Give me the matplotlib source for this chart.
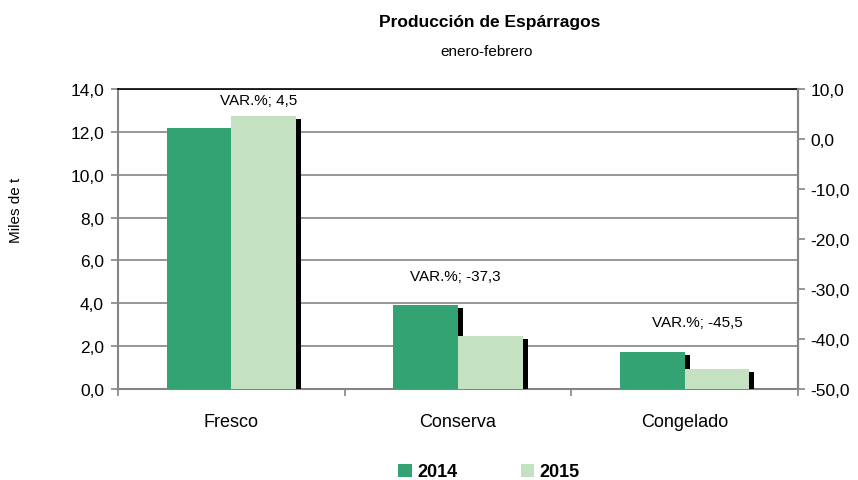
import numpy as np
import matplotlib
matplotlib.use("Agg")
import matplotlib.pyplot as plt
import matplotlib.patheffects as pe
from matplotlib.patches import Patch
from matplotlib.ticker import FuncFormatter

plt.rcParams["font.family"] = ["Liberation Sans", "DejaVu Sans"]

# Datos (miles de t)
categorias = ["Fresco", "Conserva", "Congelado"]
prod_2014 = [12.18, 3.93, 1.74]
prod_2015 = [12.73, 2.46, 0.95]
var_pct = [4.5, -37.3, -45.5]

color_2014 = "#33a374"
color_2015 = "#c4e2c2"
gris = "#858585"

fig = plt.figure(figsize=(8.58, 4.81), dpi=100)
ax = fig.add_axes([118 / 858, 91 / 481, 680 / 858, 300 / 481])

x = np.arange(len(categorias))
ancho = 0.286
sombra = [pe.SimplePatchShadow(offset=(3.6, -2.2), shadow_rgbFace="black", alpha=1.0), pe.Normal()]

b1 = ax.bar(x - ancho / 2, prod_2014, ancho, color=color_2014, zorder=3)
for b in b1:
    b.set_path_effects(sombra)
b2 = ax.bar(x + ancho / 2, prod_2015, ancho, color=color_2015, zorder=4)
for b in b2:
    b.set_path_effects(sombra)

ax.set_xlim(-0.5, 2.5)
ax.set_ylim(0, 14)
ax.set_yticks(np.arange(0, 15, 2))
coma = FuncFormatter(lambda v, p: f"{v:.1f}".replace(".", ","))
ax.yaxis.set_major_formatter(coma)
ax.yaxis.grid(True, color=gris, linewidth=1.2, zorder=0)
ax.set_axisbelow(True)

# ticks del eje x en los limites de categoria
ax.set_xticks([-0.5, 0.5, 1.5, 2.5])
ax.set_xticklabels([])
ax.set_xticks(x, minor=True)
ax.set_xticklabels(categorias, minor=True, fontsize=13)
ax.tick_params(axis="x", which="minor", length=0, pad=17)
ax.tick_params(axis="x", which="major", direction="out", length=5, color=gris, width=1.2)
ax.tick_params(axis="y", direction="out", length=5, color=gris, width=1.2, labelsize=12.5, pad=5)

for s in ["left", "bottom", "right"]:
    ax.spines[s].set_color(gris)
    ax.spines[s].set_linewidth(1.5)
ax.spines["top"].set_color("black")
ax.spines["top"].set_linewidth(1.2)

# eje derecho para la variacion
ax2 = ax.twinx()
ax2.set_ylim(-50, 10)
ax2.set_yticks(np.arange(-50, 11, 10))
ax2.yaxis.set_major_formatter(coma)
ax2.tick_params(axis="y", direction="out", length=5, color=gris, width=1.2, labelsize=12.5, pad=4)
for s in ax2.spines.values():
    s.set_visible(False)
ax2.spines["right"].set_visible(True)
ax2.spines["right"].set_color(gris)
ax2.spines["right"].set_linewidth(1.5)

# etiquetas de variacion
pos_etiquetas = [(0.12, 13.49), (0.99, 5.27), (2.055, 3.13)]
for (px, py), v in zip(pos_etiquetas, var_pct):
    ax.text(px, py, "VAR.%; " + f"{v:.1f}".replace(".", ","), ha="center", va="center",
            fontsize=11, zorder=6)

fig.text(16 / 858, 1 - 210 / 481, "Miles de t", rotation=90, ha="center", va="center", fontsize=11)
fig.text(490 / 858, 1 - 23 / 481, "Producción de Espárragos", ha="center", va="center",
         fontsize=12.5, fontweight="bold")
fig.text(487 / 858, 1 - 52 / 481, "enero-febrero", ha="center", va="center", fontsize=11)

handles = [Patch(facecolor=color_2014, label="2014"), Patch(facecolor=color_2015, label="2015")]
fig.legend(handles=handles, loc="center", bbox_to_anchor=(489 / 858, 1 - 473 / 481), ncol=2,
           frameon=False, handlelength=0.75, handleheight=0.75, handletextpad=0.3,
           columnspacing=3.5, prop={"weight": "bold", "size": 13})

fig.savefig("out.png", dpi=100)
